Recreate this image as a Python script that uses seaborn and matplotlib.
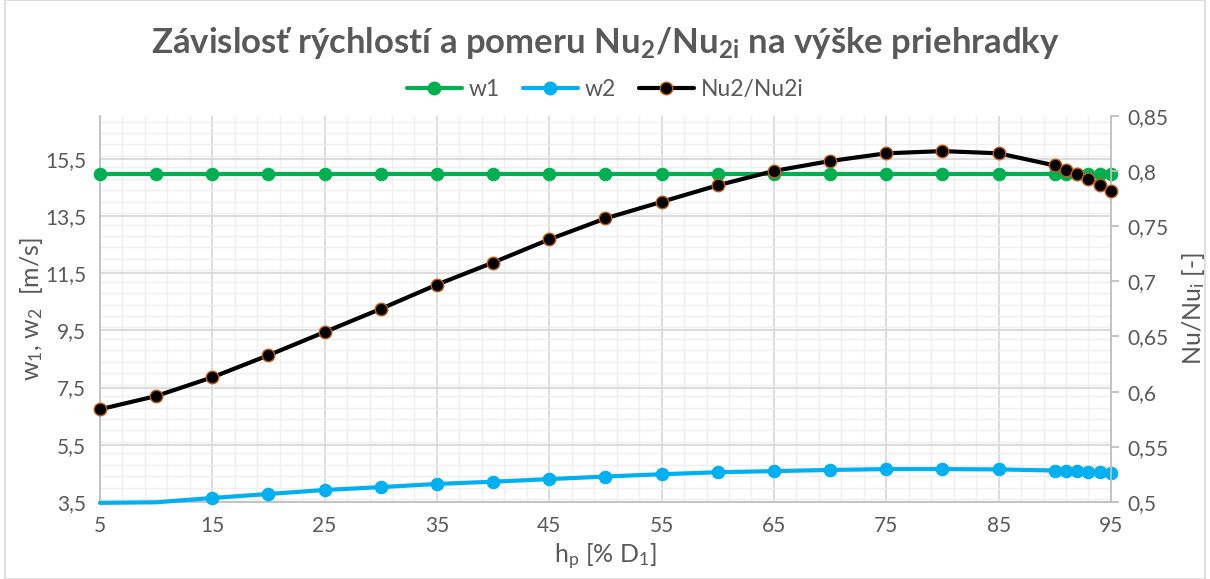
import numpy as np
import pandas as pd
import seaborn as sns
import matplotlib.pyplot as plt
from matplotlib.ticker import MultipleLocator, FixedLocator, FuncFormatter
from matplotlib.lines import Line2D
from matplotlib.patches import Rectangle

# data
h_p = [5, 10, 15, 20, 25, 30, 35, 40, 45, 50, 55, 60, 65, 70, 75, 80, 85, 90, 91, 92, 93, 94, 95]
w1 = [14.95] * len(h_p)
w2 = [3.47, 3.49, 3.64, 3.78, 3.92, 4.02, 4.13, 4.21, 4.30, 4.39, 4.47, 4.54, 4.58, 4.62, 4.65, 4.65, 4.64,
      4.60, 4.58, 4.57, 4.56, 4.54, 4.50]
nu_ratio = [0.584, 0.596, 0.613, 0.633, 0.654, 0.675, 0.697, 0.717, 0.738, 0.757, 0.772, 0.787, 0.800,
            0.809, 0.816, 0.818, 0.816, 0.805, 0.801, 0.797, 0.793, 0.787, 0.782]
x_ticks = [5, 15, 25, 35, 45, 55, 65, 75, 85, 95]

df = pd.DataFrame({"h_p": h_p, "w1": w1, "w2": w2, "nu": nu_ratio})

sns.set_theme(style="white")
plt.rcParams['font.family'] = ['Lato', 'DejaVu Sans']
plt.rcParams['mathtext.fontset'] = 'custom'
plt.rcParams['mathtext.rm'] = 'Lato'
plt.rcParams['mathtext.it'] = 'Lato'
plt.rcParams['mathtext.bf'] = 'Lato:bold'

gray = "#595959"
green = "#00B050"
blue = "#00B0F0"

fig = plt.figure(figsize=(12.1, 5.79), dpi=100)
ax = fig.add_axes([0.0826, 0.133, 0.8355, 0.667])
ax2 = ax.twinx()

# w2 markers only where inside the axis range
vis = [i for i, v in enumerate(w2) if v >= 3.5]

sns.lineplot(data=df, x="h_p", y="w1", ax=ax, color=green, lw=3, marker="o", markersize=9,
             markeredgecolor=green, zorder=3, clip_on=False)
sns.lineplot(data=df, x="h_p", y="w2", ax=ax, color=blue, lw=3, marker="o", markersize=9,
             markeredgecolor=blue, markevery=vis, zorder=3, clip_on=False)
sns.lineplot(data=df, x="h_p", y="nu", ax=ax2, color="black", lw=3, marker="o", markersize=9,
             markerfacecolor="black", markeredgecolor="#C55A11", markeredgewidth=1, zorder=3,
             clip_on=False)

ax.set_xlim(5, 95)
ax.set_ylim(3.5, 17.0)
ax2.set_ylim(0.5, 0.85)

ax.xaxis.set_major_locator(FixedLocator(x_ticks))
ax.xaxis.set_minor_locator(FixedLocator(np.arange(5, 96, 2)))
ax.set_yticks(np.arange(3.5, 16.0, 2))
ax.yaxis.set_minor_locator(MultipleLocator(0.4))
ax2.yaxis.set_major_locator(MultipleLocator(0.05))

comma = FuncFormatter(lambda v, p: ("%g" % round(v, 2)).replace(".", ","))
ax.yaxis.set_major_formatter(comma)
ax2.yaxis.set_major_formatter(comma)

ax.grid(which="major", color="#D9D9D9", lw=1.3)
ax.grid(which="minor", color="#EFEFEF", lw=1.0)
ax.set_axisbelow(True)

for a in (ax, ax2):
    for s in a.spines.values():
        s.set_visible(False)
ax.spines["left"].set_visible(True)
ax.spines["bottom"].set_visible(True)
ax2.spines["right"].set_visible(True)
for s in (ax.spines["left"], ax.spines["bottom"], ax2.spines["right"]):
    s.set_color("#BFBFBF")
    s.set_linewidth(1.3)

ax.tick_params(axis="both", which="both", length=0, labelsize=15, labelcolor=gray, pad=10)
ax2.tick_params(axis="y", which="major", length=6, color="#BFBFBF", width=1.3, direction="out",
                labelsize=15, labelcolor=gray, pad=6)
ax2.tick_params(axis="y", which="minor", length=0)

ax.set_xlabel("h$_\\mathregular{p}$ [% D$_\\mathregular{1}$]", fontsize=18, color=gray, labelpad=4)
ax.set_ylabel("w$_\\mathregular{1}$, w$_\\mathregular{2}$  [m/s]", fontsize=18, color=gray, labelpad=0)
ax2.set_ylabel("Nu/Nu$_\\mathregular{i}$ [-]", fontsize=18, color=gray, labelpad=8)

fig.text(0.5, 0.925, "Závislosť rýchlostí a pomeru Nu$_\\mathregular{2}$/Nu$_\\mathregular{2i}$ na výške priehradky",
         ha="center", va="center", fontsize=25, fontweight="bold", color=gray)

handles = [
    Line2D([], [], color=green, lw=3, marker="o", markersize=9, markeredgecolor=green),
    Line2D([], [], color=blue, lw=3, marker="o", markersize=9, markeredgecolor=blue),
    Line2D([], [], color="black", lw=3, marker="o", markersize=9, markerfacecolor="black",
           markeredgecolor="#C55A11"),
]
fig.legend(handles, ["w1", "w2", "Nu2/Nu2i"], loc="center", bbox_to_anchor=(0.5, 0.845), ncol=3,
           frameon=False, fontsize=16.5, labelcolor=gray, handlelength=2.4, columnspacing=1.0,
           handletextpad=0.3)

fig.patches.append(Rectangle((0.004, 0.0), 0.992, 1.0, transform=fig.transFigure, fill=False,
                             edgecolor="#D9D9D9", lw=1.2))

fig.savefig("out.png", dpi=100)
